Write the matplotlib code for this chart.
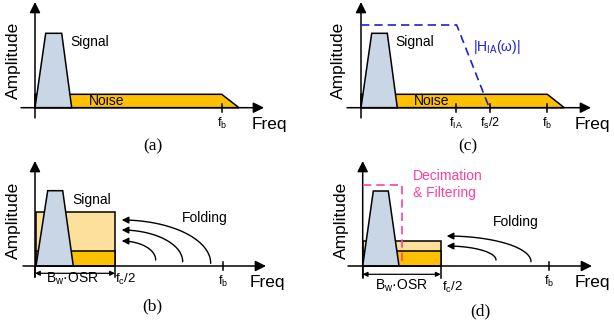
import matplotlib
matplotlib.use("Agg")
import matplotlib.pyplot as plt
from matplotlib.patches import Polygon, FancyArrowPatch
from matplotlib.path import Path
import numpy as np

plt.rcParams['font.family'] = ['Liberation Sans', 'DejaVu Sans']
plt.rcParams['mathtext.fontset'] = 'custom'
plt.rcParams['mathtext.rm'] = 'Liberation Sans'
plt.rcParams['mathtext.it'] = 'Liberation Sans:italic'

# ---------------- diagram data (pixel coordinates) ----------------
panel_labels = ["(a)", "(b)", "(c)", "(d)"]
panel_label_pos = [(153, 146), (152, 306), (468, 146), (480, 311)]

# axes: (y-axis x, x-axis y, x-axis start, x-axis tip, y-axis top, y-axis bottom)
axes_geom = [
    (35, 107.7, 21, 264, 2, 118),
    (35, 266, 23, 266, 161, 277),
    (361, 107.7, 347, 591, 2, 118),
    (362.7, 266, 348, 592, 161, 277),
]

signal_a = [(35, 107.7), (45.7, 33.3), (61.7, 33.3), (71.7, 107.7)]
signal_b = [(36, 266), (47.7, 190.7), (62.7, 190.7), (73.3, 266)]
signal_c = [(361, 107.7), (371.7, 33.3), (387.3, 33.3), (397.3, 107.7)]
signal_d = [(362.7, 266), (373.3, 191), (388.3, 191), (399, 266)]

noise_a = [(35, 107.7), (35, 94.3), (221.7, 94.3), (239, 107.7)]
noise_c = [(361, 107.7), (361, 94.3), (547.3, 94.3), (564.3, 107.7)]

folded_light_b = [36, 115, 212.3, 266]   # x0, x1, ytop, ybottom
folded_dark_b = [36, 115, 250.7, 266]
folded_light_d = [362.7, 440.7, 241, 266]
folded_dark_d = [362.7, 440.7, 251, 266]

ia_response_x = [361, 456.7, 489]
ia_response_y = [25, 25, 107]

dec_filter_x = [362.7, 401.7, 401.7]
dec_filter_y = [185, 185, 266]

fold_arcs_b = [((155.7, 260), (121.7, 241)), ((182.7, 261.7), (121.7, 230)), ((210.7, 263.3), (121.7, 220))]
fold_arcs_d = [((496, 260), (446.7, 246)), ((531, 261.7), (446.7, 236))]

ticks = [(221.7, 107.7), (222.7, 266), (456, 107.7), (490, 107.7), (547.3, 107.7), (549.3, 266)]
tick_labels = [r"f$_\mathrm{b}$", r"f$_\mathrm{b}$", r"f$_\mathrm{IA}$", r"f$_\mathrm{s}$/2", r"f$_\mathrm{b}$", r"f$_\mathrm{b}$"]
tick_label_y = [123, 281, 123, 123, 123, 281]

brackets = [(35, 115, 273.3), (362.7, 440.7, 274.3)]
bracket_label = r"B$_\mathrm{w}$·OSR"
bracket_label_pos = [(72, 279), (401.7, 286)]
fc_label = r"f$_\mathrm{c}$/2"
fc_label_pos = [(115, 279), (442, 287)]

C_SIGNAL = "#c8d6e6"
C_NOISE = "#ffc000"
C_LIGHT = "#fde09c"
C_BLUE = "#1f1fd0"
C_PINK = "#ff3fa0"

W, H = 614, 332
fig = plt.figure(figsize=(W / 100, H / 100), dpi=100)
ax = fig.add_axes([0, 0, 1, 1])
ax.set_xlim(0, W)
ax.set_ylim(H, 0)
ax.axis("off")

LW = 1.1


def poly(pts, fc, z=2):
    ax.add_patch(Polygon(pts, closed=True, facecolor=fc, edgecolor="black", lw=LW, zorder=z))


def rect(r, fc, z=1):
    x0, x1, y0, y1 = r
    poly([(x0, y1), (x0, y0), (x1, y0), (x1, y1)], fc, z)


def arrow(p0, p1, style="-|>", ms=14, lw=LW, z=6):
    ax.add_patch(FancyArrowPatch(p0, p1, arrowstyle=style, mutation_scale=ms,
                                 color="black", lw=lw, shrinkA=0, shrinkB=0, zorder=z))


# noise
poly(noise_a, C_NOISE, 1)
poly(noise_c, C_NOISE, 1)
# folded noise
rect(folded_light_b, C_LIGHT, 1)
rect(folded_dark_b, C_NOISE, 1.5)
rect(folded_light_d, C_LIGHT, 1)
rect(folded_dark_d, C_NOISE, 1.5)
# signals
for s in (signal_a, signal_b, signal_c, signal_d):
    poly(s, C_SIGNAL, 3)

# axes
for (yx, xy, x0, x1, ytop, ybot) in axes_geom:
    arrow((x0, xy), (x1, xy), ms=16)
    arrow((yx, ybot), (yx, ytop), ms=16)

# ticks
for (tx, ty), lab, ly in zip(ticks, tick_labels, tick_label_y):
    ax.plot([tx, tx], [ty - 4, ty + 4], color="black", lw=LW, zorder=6)
    ax.text(tx, ly, lab, ha="center", va="center", fontsize=9)

# IA response
ax.plot(ia_response_x, ia_response_y, color=C_BLUE, lw=1.2, ls=(0, (5, 3)), zorder=7)
ax.text(473, 46.5, r"|H$_\mathrm{IA}$(ω)|", color=C_BLUE, fontsize=10, ha="left", va="center")

# decimation filter
ax.plot(dec_filter_x, dec_filter_y, color=C_PINK, lw=1.2, ls=(0, (5, 3)), zorder=7)
ax.text(413, 176.5, "Decimation", color=C_PINK, fontsize=10, ha="left", va="center")
ax.text(413, 193.5, "& Filtering", color=C_PINK, fontsize=10, ha="left", va="center")

# folding arcs
for arcs in (fold_arcs_b, fold_arcs_d):
    for (sx, sy), (ex, ey) in arcs:
        t = np.linspace(0, np.pi / 2, 30)
        xs = ex + (sx - ex) * np.cos(t)
        ys = sy - (sy - ey) * np.sin(t)
        path = Path(np.column_stack([xs, ys]))
        ax.add_patch(FancyArrowPatch(path=path, arrowstyle="-|>", mutation_scale=10,
                                     color="black", lw=1.0, zorder=6))

# brackets
for (bx0, bx1, by) in brackets:
    arrow((bx0, by), (bx1, by), style="<|-|>", ms=7, lw=0.9)
    ax.plot([bx1, bx1], [266, by + 4], color="black", lw=LW, zorder=6)
    ax.plot([bx0, bx0], [266, by + 4], color="black", lw=LW, zorder=6)
for (x, y) in bracket_label_pos:
    ax.text(x, y, bracket_label, ha="center", va="center", fontsize=10)
for (x, y) in fc_label_pos:
    ax.text(x, y, fc_label, ha="left", va="center", fontsize=9.5)

# texts
for (x, y) in [(70, 42), (72.7, 200), (395.7, 42)]:
    ax.text(x, y, "Signal", ha="left", va="center", fontsize=10)
for (x, y) in [(107, 101), (431.7, 101)]:
    ax.text(x, y, "Noise", ha="center", va="center", fontsize=10)
for (x, y) in [(181.7, 218.3), (493.3, 221.7)]:
    ax.text(x, y, "Folding", ha="left", va="center", fontsize=10)
for (x, y) in [(252, 125), (250, 282), (575, 125), (575, 283)]:
    ax.text(x, y, "Freq", ha="left", va="center", fontsize=12.5)
for (x, y) in [(13, 60), (13, 220), (338, 60), (341, 220)]:
    ax.text(x, y, "Amplitude", ha="center", va="center", fontsize=12.5, rotation=90)
for lab, (x, y) in zip(panel_labels, panel_label_pos):
    ax.text(x, y, lab, ha="center", va="center", fontsize=12.5, family="Liberation Serif")

fig.savefig("out.png", dpi=100)
